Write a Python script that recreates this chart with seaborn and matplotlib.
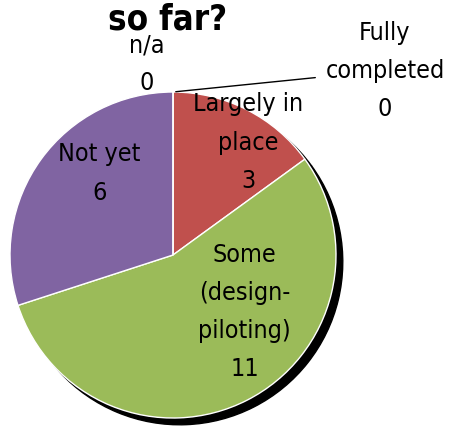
import numpy as np
import seaborn as sns
import matplotlib.pyplot as plt

categories = ['Fully\ncompleted', 'Largely in\nplace', 'Some\n(design-\npiloting)', 'Not yet', 'n/a']
values = [0, 3, 11, 6, 0]
colors = ['#4F81BD', '#C0504D', '#9BBB59', '#8064A2', '#4BACC6']
title = 'so far?'

sns.set_theme(style='white')
plt.rcParams['font.family'] = ['DejaVu Sans']
plt.rcParams['font.stretch'] = 'condensed'
plt.rcParams['text.color'] = 'black'

fig = plt.figure(figsize=(4.52, 4.28), dpi=100)
ax = fig.add_axes([10 / 452, 10 / 428, 326 / 452, 326 / 428])

wedges, texts = ax.pie(values, colors=colors, startangle=90, counterclock=False,
                       labels=[f'{c}\n{v}' for c, v in zip(categories, values)],
                       labeldistance=0.6,
                       wedgeprops=dict(edgecolor='white', linewidth=1),
                       textprops=dict(fontsize=18, linespacing=1.75, ha='center', va='center',
                                      color='black', fontstretch='condensed'),
                       shadow=dict(ox=0.03, oy=-0.03, facecolor='black', edgecolor='black', alpha=1))

# label placement as in the original chart
label_pos = [(1.30, 1.13), (0.46, 0.69), (0.44, -0.35), (-0.45, 0.50), (-0.16, 1.17)]
for t, p in zip(texts, label_pos):
    t.set_position(p)
    t.set_clip_on(False)

# leader line for the zero "Fully completed" slice
th = np.deg2rad(wedges[0].theta1)
ax.annotate('', xy=(np.cos(th), np.sin(th)), xytext=(0.89, 1.09),
            arrowprops=dict(arrowstyle='-', color='black', lw=1), annotation_clip=False)

ax.set_xlim(-1, 1)
ax.set_ylim(-1, 1)
ax.set_aspect('auto')

fig.text(168 / 452, 1 - 20 / 428, title, ha='center', va='center', fontsize=25,
         fontweight='bold', color='black', fontstretch='condensed')

fig.savefig('out.png', dpi=100)
